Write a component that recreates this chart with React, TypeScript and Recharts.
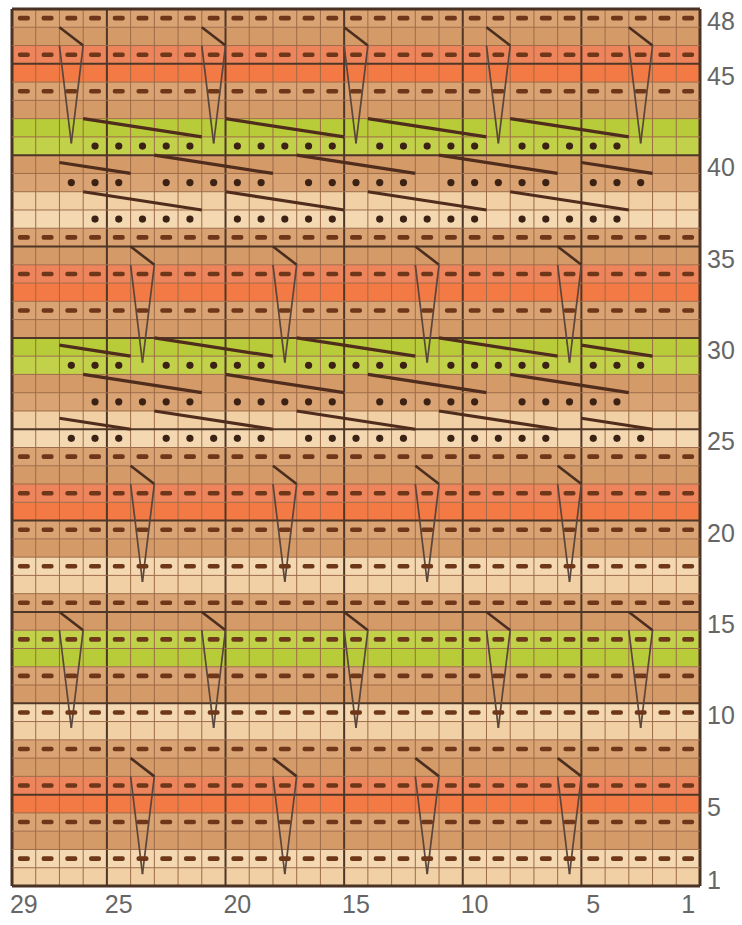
import React from "react";
import {
  ReferenceArea,
  ReferenceLine,
  Scatter,
  ScatterChart,
  XAxis,
  YAxis,
} from "recharts";

// chart size in stitches and rows
const COLS = 29;
const ROWS = 48;

const COL_LABELS = [29, 25, 20, 15, 10, 5, 1];
const ROW_LABELS = [48, 45, 40, 35, 30, 25, 20, 15, 10, 5, 1];

// yarn colour of each pair of rows, from row 1 upwards
const ROW_BANDS = [
  "L", "T", "C", "T", "L", "T", "G", "T", "L", "T", "C", "T",
  "L", "T", "G", "T", "C", "T", "L", "T", "G", "T", "C", "T",
];

// purl rows (every stitch has a dash)
const DASH_ROWS = [2, 4, 6, 8, 10, 12, 14, 16, 18, 20, 22, 24, 32, 34, 36, 44, 46, 48];

// dotted stitches
const DOTS_A = [26, 25, 24, 23, 22, 20, 19, 18, 17, 16, 14, 13, 12, 11, 10, 8, 7, 6, 5, 4];
const DOTS_B = [27, 26, 25, 23, 22, 21, 20, 19, 17, 16, 15, 14, 13, 11, 10, 9, 8, 7, 5, 4, 3];
const DOT_ROWS_A = [41, 37, 27];
const DOT_ROWS_B = [39, 29, 25];

// long slanted strands: [from stitch, to stitch]
const CABLE_A = [[26, 21], [20, 15], [14, 9], [8, 3]];
const CABLE_B = [[27, 24], [23, 18], [17, 12], [11, 6], [5, 2]];
const CABLE_ROWS_A = [42, 38, 28];
const CABLE_ROWS_B = [40, 30, 26];

// elongated drop stitches: column and top row
const V_COLS_A = [27, 21, 15, 9, 3];
const V_TOPS_A = [47, 15];
const V_COLS_B = [24, 18, 12, 6];
const V_TOPS_B = [35, 23, 7];

const COLORS: Record<string, [string, string]> = {
  T: ["#d49a67", "#daa373"],
  C: ["#f47a45", "#ee845c"],
  G: ["#b8cc3a", "#c1d24a"],
  L: ["#f0d0a4", "#f3d8b2"],
};

const dashData = DASH_ROWS.flatMap((r) =>
  Array.from({ length: COLS }, (_, i) => ({ u: i + 0.5, v: r - 0.5 }))
);
const dotData = [
  ...DOT_ROWS_A.flatMap((r) => DOTS_A.map((c) => ({ u: c - 0.5, v: r - 0.5 }))),
  ...DOT_ROWS_B.flatMap((r) => DOTS_B.map((c) => ({ u: c - 0.5, v: r - 0.5 }))),
];

const cables = [
  ...CABLE_ROWS_A.flatMap((r) => CABLE_A.map(([s, e]) => ({ r, s, e }))),
  ...CABLE_ROWS_B.flatMap((r) => CABLE_B.map(([s, e]) => ({ r, s, e }))),
];
const vees = [
  ...V_TOPS_A.flatMap((t) => V_COLS_A.map((c) => ({ c, t }))),
  ...V_TOPS_B.flatMap((t) => V_COLS_B.map((c) => ({ c, t }))),
];

const FONT = "'Liberation Sans Narrow', 'Liberation Sans', Arial, sans-serif";

const Dash = (p: any) => (
  <rect x={p.cx - 6} y={p.cy - 2.3} width={12} height={4.6} rx={2} fill="#6e3719" />
);
const Dot = (p: any) => <circle cx={p.cx} cy={p.cy} r={3.6} fill="#3b2214" />;

const RowTick = (p: any) => (
  <text x={p.x - 1} y={p.y + 12} fontSize={25} fill="#666" fontFamily={FONT} textAnchor="start">
    {Math.round(p.payload.value + 0.5)}
  </text>
);
const ColTick = (p: any) => (
  <text x={p.x} y={p.y + 19} fontSize={25} fill="#666" fontFamily={FONT} textAnchor="middle">
    {Math.round(p.payload.value + 0.5)}
  </text>
);

export default function App() {
  const vLines = Array.from({ length: COLS + 1 }, (_, i) => i);
  const hLines = Array.from({ length: ROWS + 1 }, (_, i) => i);
  const lineStyle = (i: number, max: number) =>
    i === 0 || i === max
      ? { stroke: "#4a3224", strokeWidth: 3 }
      : i % 5 === 0
      ? { stroke: "#4f3727", strokeWidth: 2 }
      : { stroke: "#9e6b48", strokeWidth: 1 };

  return (
    <div style={{ position: "absolute", left: 0, top: 0, background: "#fff" }}>
      <ScatterChart width={742} height={925} margin={{ top: 9, right: 0, bottom: 0, left: 12 }}>
        <XAxis
          type="number"
          dataKey="u"
          domain={[0, COLS]}
          reversed
          allowDataOverflow
          ticks={COL_LABELS.map((c) => c - 0.5)}
          tick={<ColTick />}
          axisLine={false}
          tickLine={false}
          height={39}
          interval={0}
        />
        <YAxis
          type="number"
          dataKey="v"
          domain={[0, ROWS]}
          orientation="right"
          allowDataOverflow
          ticks={ROW_LABELS.map((r) => r - 0.5)}
          tick={<RowTick />}
          axisLine={false}
          tickLine={false}
          width={42}
          interval={0}
        />
        {Array.from({ length: ROWS }, (_, i) => {
          const r = i + 1;
          const key = ROW_BANDS[Math.floor(i / 2)];
          const shade = DASH_ROWS.includes(r) || DOT_ROWS_A.includes(r) || DOT_ROWS_B.includes(r) ? 1 : 0;
          return (
            <ReferenceArea
              key={`row${r}`}
              x1={0}
              x2={COLS}
              y1={r - 1}
              y2={r}
              fill={COLORS[key][shade]}
              fillOpacity={1}
              stroke="none"
              ifOverflow="visible"
            />
          );
        })}
        {vLines.map((i) => (
          <ReferenceLine key={`vx${i}`} x={i} {...lineStyle(i, COLS)} ifOverflow="visible" />
        ))}
        {hLines.map((j) => (
          <ReferenceLine key={`hy${j}`} y={j} {...lineStyle(j, ROWS)} ifOverflow="visible" />
        ))}
        <Scatter data={dashData} shape={Dash} isAnimationActive={false} />
        <Scatter data={dotData} shape={Dot} isAnimationActive={false} />
        {cables.map(({ r, s, e }, i) => (
          <ReferenceLine
            key={`cab${i}`}
            segment={[
              { x: s, y: r - 1 + (s - e) / 5 },
              { x: e, y: r - 1 },
            ]}
            stroke="#4f2c1c"
            strokeWidth={3.2}
            ifOverflow="visible"
          />
        ))}
        {vees.flatMap(({ c, t }, i) => [
          <ReferenceLine
            key={`vs${i}`}
            segment={[{ x: c, y: t }, { x: c - 1, y: t - 1 }]}
            stroke="#4a2e20"
            strokeWidth={2.6}
            ifOverflow="visible"
          />,
          <ReferenceLine
            key={`vl${i}`}
            segment={[{ x: c, y: t - 1 }, { x: c - 0.5, y: t - 6.35 }]}
            stroke="#5a463c"
            strokeWidth={1.7}
            ifOverflow="visible"
          />,
          <ReferenceLine
            key={`vr${i}`}
            segment={[{ x: c - 1, y: t - 1 }, { x: c - 0.5, y: t - 6.35 }]}
            stroke="#5a463c"
            strokeWidth={1.7}
            ifOverflow="visible"
          />,
        ])}
      </ScatterChart>
    </div>
  );
}
